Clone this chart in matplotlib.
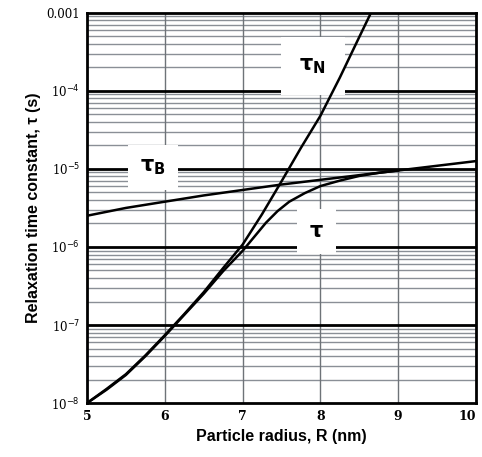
import numpy as np
import matplotlib.pyplot as plt

# radius (nm) and log10 of relaxation times
r_neel = [5.0, 5.25, 5.5, 5.75, 6.0, 6.25, 6.5, 6.75, 7.0, 7.25, 7.5, 7.75, 8.0, 8.25, 8.5, 8.66]
log_tau_neel = [-8.0, -7.82, -7.63, -7.39, -7.13, -6.86, -6.58, -6.27, -5.97, -5.58, -5.16,
                -4.73, -4.32, -3.83, -3.31, -2.98]

r_brown = [5.0, 5.5, 6.0, 6.5, 7.0, 7.5, 8.0, 8.5, 9.0, 9.5, 10.0]
log_tau_brown = [-5.60, -5.50, -5.42, -5.34, -5.27, -5.20, -5.14, -5.08, -5.02, -4.96, -4.90]

r_eff = [5.0, 5.25, 5.5, 5.75, 6.0, 6.25, 6.5, 6.75, 7.0, 7.15, 7.3, 7.45, 7.6, 7.8, 8.0,
         8.25, 8.5, 8.75, 9.0]
log_tau_eff = [-8.0, -7.83, -7.64, -7.40, -7.14, -6.87, -6.60, -6.31, -6.05, -5.87, -5.69,
               -5.54, -5.42, -5.31, -5.22, -5.15, -5.09, -5.05, -5.02]

ytick_vals = [1e-8, 1e-7, 1e-6, 1e-5, 1e-4, 1e-3]
ytick_labels = ['10$^{-8}$', '10$^{-7}$', '10$^{-6}$', '10$^{-5}$', '10$^{-4}$', '0.001']
xtick_vals = [5, 6, 7, 8, 9, 10]

fig = plt.figure(figsize=(4.82, 4.57), dpi=100)
ax = fig.add_axes([0.1805, 0.118, 0.807, 0.854])
ax.set_yscale('log')
ax.set_xlim(5, 10)
ax.set_ylim(1e-8, 1e-3)

# grid: minor decades grey, decades black, integer radii grey
for d in range(-8, -3):
    for m in range(2, 10):
        ax.axhline(m * 10.0**d, color='#8a8f96', lw=1.0, zorder=1)
for yv in ytick_vals[1:-1]:
    ax.axhline(yv, color='black', lw=2.0, zorder=2)
for xv in xtick_vals[1:-1]:
    ax.axvline(xv, color='#6e7378', lw=1.0, zorder=1)

ax.plot(r_neel, 10.0**np.array(log_tau_neel), color='black', lw=1.8, zorder=4)
ax.plot(r_brown, 10.0**np.array(log_tau_brown), color='black', lw=1.8, zorder=4)
ax.plot(r_eff, 10.0**np.array(log_tau_eff), color='black', lw=1.8, zorder=4)

ax.text(7.9, 10**-3.68, r'$\mathbf{\tau_N}$', fontsize=15, ha='center', va='center',
        bbox=dict(boxstyle='square,pad=0.9', facecolor='white', edgecolor='none'), zorder=3)
ax.text(5.85, 10**-4.98, r'$\mathbf{\tau_B}$', fontsize=15, ha='center', va='center',
        bbox=dict(boxstyle='square,pad=0.6', facecolor='white', edgecolor='none'), zorder=3)
ax.text(7.95, 10**-5.8, r'$\mathbf{\tau}$', fontsize=15, ha='center', va='center',
        bbox=dict(boxstyle='square,pad=0.6', facecolor='white', edgecolor='none'), zorder=3)

ax.set_yticks(ytick_vals)
ax.set_yticklabels(ytick_labels, fontsize=8.5, family='DejaVu Serif')
ax.yaxis.set_minor_locator(plt.NullLocator())
ax.set_xticks(xtick_vals)
ax.set_xticklabels([str(v) for v in xtick_vals], fontsize=9, family='DejaVu Serif', fontweight='bold')
ax.get_xticklabels()[-1].set_ha('right')
ax.tick_params(length=0, pad=5)

for s in ax.spines.values():
    s.set_linewidth(2.0)
    s.set_zorder(5)

ax.set_xlabel('Particle radius, R (nm)', fontsize=11.5, fontweight='bold', family='Liberation Sans', labelpad=4)
ax.set_ylabel('Relaxation time constant, \u03c4 (s)', fontsize=11.5, fontweight='bold', family='Liberation Sans', labelpad=4)

fig.savefig('out.png', dpi=100)
